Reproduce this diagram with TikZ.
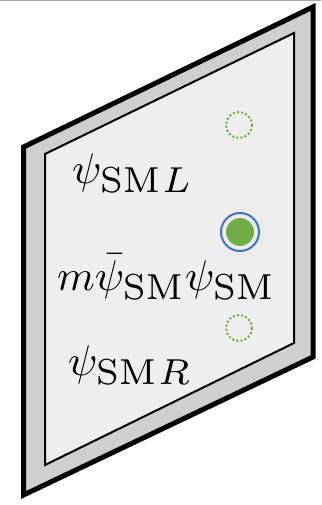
\documentclass[tikz,border=0pt]{standalone}
\usepackage{graphicx}
\usepackage{tikz}

\definecolor{frameband}{HTML}{D0CECE}
\definecolor{paneface}{HTML}{EEEEEE}
\definecolor{dotgreen}{HTML}{70AD47}
\definecolor{ringblue}{HTML}{4472C4}

\newcommand{\biglabel}[1]{\scalebox{4.3}{$#1$}}
\newcommand{\smsub}[1]{_{\scalebox{1.2}{$\scriptstyle #1$}}}

\tikzset{
  bigmath/.style={inner sep=0pt},
  ghost/.style={draw=dotgreen, line width=2pt, dash pattern=on 2pt off 2.2pt},
}

\begin{document}
\begin{tikzpicture}[x=1pt, y=-1pt]
\useasboundingbox (0,0) rectangle (321,505);
\draw[gray!70, line width=1pt] (0,0.5) -- (321,0.5);
% outer frame
\filldraw[fill=frameband, draw=black, line width=5pt, line join=miter]
  (23.5,147) -- (313,7) -- (313,357) -- (23.5,495) -- cycle;
% inner pane
\filldraw[fill=paneface, draw=black, line width=2pt]
  (45,154) -- (294,33) -- (294,343) -- (45,465) -- cycle;
% states
\draw[ghost] (239,125) circle (13);
\draw[ghost] (239,328) circle (13);
\draw[ringblue, line width=2pt] (240,232) circle (19);
\fill[dotgreen] (240,232) circle (14);
% labels
\node[bigmath, anchor=base west] (psiL) at (72,183) {\biglabel{\psi\smsub{\mathrm{SM}\mkern1mu L}}};
\node[bigmath, anchor=base west] (mass) at (57,290) {\biglabel{m\bar{\psi}\smsub{\mathrm{SM}}\psi\smsub{\mathrm{SM}}}};
\node[bigmath, anchor=base west] (psiR) at (68,375) {\biglabel{\psi\smsub{\mathrm{SM}\mkern1mu R}}};
\end{tikzpicture}
\end{document}
